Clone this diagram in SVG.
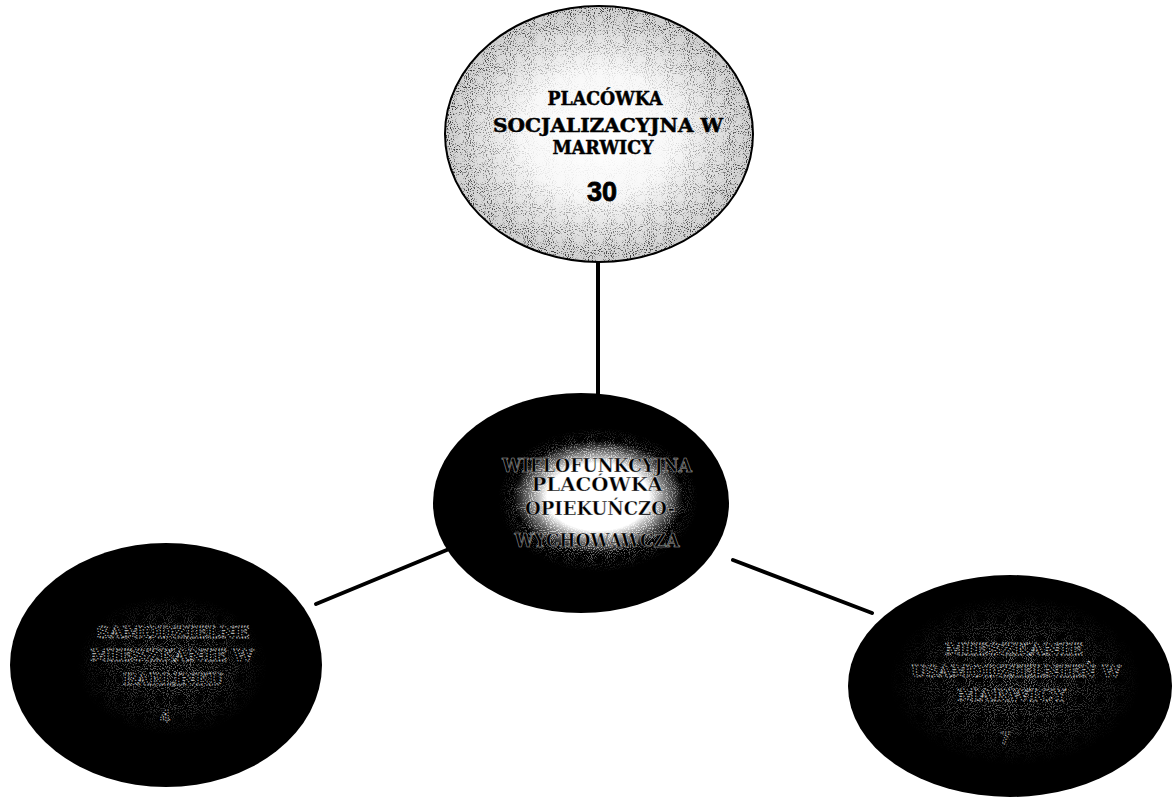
<svg xmlns="http://www.w3.org/2000/svg" width="1175" height="800" viewBox="0 0 1175 800">
  <style>
    .lbl { font-family: "DejaVu Serif", "Liberation Serif", serif; font-weight: bold; text-anchor: middle; }
    .top-lbl { font-size: 19px; fill: #000; stroke: #000; stroke-width: 0.5; }
    .num { font-family: "Liberation Sans", Arial, sans-serif; font-weight: bold; text-anchor: middle; }
    .ctr-lbl { font-size: 18px; fill: #000; stroke: #fff; stroke-width: 0.6; stroke-opacity: 0.6; }
    .dark-lbl { font-size: 17px; fill: #000; stroke: #fff; stroke-width: 0.9; stroke-dasharray: 1.2 1.6; stroke-opacity: 0.8; }
    .conn { stroke: #000; stroke-width: 4; stroke-linecap: round; fill: none; }
  </style>
  <defs>
    <filter id="blackSpecks" x="0" y="0" width="1" height="1">
      <feTurbulence type="fractalNoise" baseFrequency="0.95" numOctaves="1" seed="4" result="n"/>
      <feColorMatrix in="n" type="matrix" values="0 0 0 0 0  0 0 0 0 0  0 0 0 0 0  7 0 0 0 -3.8"/>
    </filter>
    <filter id="whiteSpecks" x="0" y="0" width="1" height="1">
      <feTurbulence type="fractalNoise" baseFrequency="0.95" numOctaves="1" seed="9" result="n"/>
      <feColorMatrix in="n" type="matrix" values="0 0 0 0 1  0 0 0 0 1  0 0 0 0 1  8 0 0 0 -4.2"/>
    </filter>
    <radialGradient id="lightFill" cx="0.5" cy="0.5" r="0.5">
      <stop offset="0" stop-color="#ffffff"/>
      <stop offset="0.5" stop-color="#f8f8f8"/>
      <stop offset="1" stop-color="#cfcfcf"/>
    </radialGradient>
    <radialGradient id="edgeMaskGrad" cx="0.5" cy="0.5" r="0.5">
      <stop offset="0" stop-color="#000"/>
      <stop offset="0.45" stop-color="#111"/>
      <stop offset="1" stop-color="#bbb"/>
    </radialGradient>
    <radialGradient id="centerMaskGrad" cx="0.5" cy="0.5" r="0.5">
      <stop offset="0" stop-color="#fff"/>
      <stop offset="0.6" stop-color="#aaa"/>
      <stop offset="1" stop-color="#000"/>
    </radialGradient>
    <radialGradient id="faintMaskGrad" cx="0.5" cy="0.5" r="0.5">
      <stop offset="0" stop-color="#777"/>
      <stop offset="0.6" stop-color="#3a3a3a"/>
      <stop offset="1" stop-color="#000"/>
    </radialGradient>
    <radialGradient id="glow" cx="0.5" cy="0.5" r="0.5">
      <stop offset="0" stop-color="#fff" stop-opacity="1"/>
      <stop offset="0.6" stop-color="#fff" stop-opacity="1"/>
      <stop offset="0.85" stop-color="#fff" stop-opacity="0.35"/>
      <stop offset="1" stop-color="#fff" stop-opacity="0"/>
    </radialGradient>
    <mask id="topMask">
      <ellipse cx="599" cy="134" rx="154" ry="128" fill="url(#edgeMaskGrad)"/>
    </mask>
    <mask id="centerMask">
      <ellipse cx="598" cy="500" rx="100" ry="72" fill="url(#centerMaskGrad)"/>
    </mask>
    <mask id="leftMask">
      <ellipse cx="172" cy="665" rx="95" ry="70" fill="url(#faintMaskGrad)"/>
    </mask>
    <mask id="rightMask">
      <ellipse cx="1015" cy="680" rx="125" ry="85" fill="url(#faintMaskGrad)"/>
    </mask>
  </defs>

  <rect width="1175" height="800" fill="#fff"/>

  <g id="connectors">
    <line class="conn" x1="598" y1="262" x2="598" y2="396"/>
    <line class="conn" x1="316" y1="604" x2="454" y2="547"/>
    <line class="conn" x1="733" y1="560" x2="872" y2="613"/>
  </g>

  <g id="node-top">
    <ellipse cx="599" cy="134" rx="154" ry="128" fill="url(#lightFill)"/>
    <rect x="440" y="0" width="320" height="268" filter="url(#blackSpecks)" mask="url(#topMask)"/>
    <ellipse cx="599" cy="134" rx="154" ry="128" fill="none" stroke="#000" stroke-width="2"/>
    <text class="lbl top-lbl" x="605" y="105" textLength="115" lengthAdjust="spacingAndGlyphs">PLACÓWKA</text>
    <text class="lbl top-lbl" x="608" y="132" textLength="230" lengthAdjust="spacingAndGlyphs">SOCJALIZACYJNA  W</text>
    <text class="lbl top-lbl" x="603" y="154" textLength="101" lengthAdjust="spacingAndGlyphs">MARWICY</text>
    <text class="num" x="602" y="201" font-size="27" stroke="#000" stroke-width="0.8">30</text>
  </g>

  <g id="node-center">
    <ellipse cx="581" cy="503" rx="148" ry="110" fill="#000"/>
    <ellipse cx="598" cy="497" rx="85" ry="56" fill="url(#glow)"/>
    <rect x="490" y="420" width="220" height="160" filter="url(#whiteSpecks)" mask="url(#centerMask)"/>
    <text class="lbl ctr-lbl" x="597" y="472" textLength="190" lengthAdjust="spacingAndGlyphs">WIELOFUNKCYJNA</text>
    <text class="lbl ctr-lbl" x="597" y="491" textLength="131" lengthAdjust="spacingAndGlyphs">PLACÓWKA</text>
    <text class="lbl ctr-lbl" x="600" y="515" textLength="150" lengthAdjust="spacingAndGlyphs">OPIEKUŃCZO-</text>
    <text class="lbl ctr-lbl" x="597" y="547" textLength="165" lengthAdjust="spacingAndGlyphs">WYCHOWAWCZA</text>
  </g>

  <g id="node-left">
    <ellipse cx="166" cy="665" rx="156" ry="122" fill="#000"/>
    <rect x="60" y="580" width="230" height="170" filter="url(#whiteSpecks)" mask="url(#leftMask)"/>
    <text class="lbl dark-lbl" x="173" y="638" textLength="153" lengthAdjust="spacingAndGlyphs">SAMODZIELNE</text>
    <text class="lbl dark-lbl" x="172" y="661" textLength="163" lengthAdjust="spacingAndGlyphs">MIESZKANIE W</text>
    <text class="lbl dark-lbl" x="173" y="685" textLength="100" lengthAdjust="spacingAndGlyphs">BARLINKU</text>
    <text class="num dark-lbl" x="165" y="722" font-size="16">4</text>
  </g>

  <g id="node-right">
    <ellipse cx="1010" cy="686" rx="162" ry="111" fill="#000"/>
    <rect x="870" y="585" width="290" height="190" filter="url(#whiteSpecks)" mask="url(#rightMask)"/>
    <text class="lbl dark-lbl" x="1014" y="655" textLength="138" lengthAdjust="spacingAndGlyphs">MIESZKANIE</text>
    <text class="lbl dark-lbl" x="1016" y="677" textLength="210" lengthAdjust="spacingAndGlyphs">USAMODZIELNIEŃ W</text>
    <text class="lbl dark-lbl" x="1012" y="701" textLength="109" lengthAdjust="spacingAndGlyphs">MARWICY</text>
    <text class="num dark-lbl" x="1005" y="744" font-size="18">7</text>
  </g>
</svg>
